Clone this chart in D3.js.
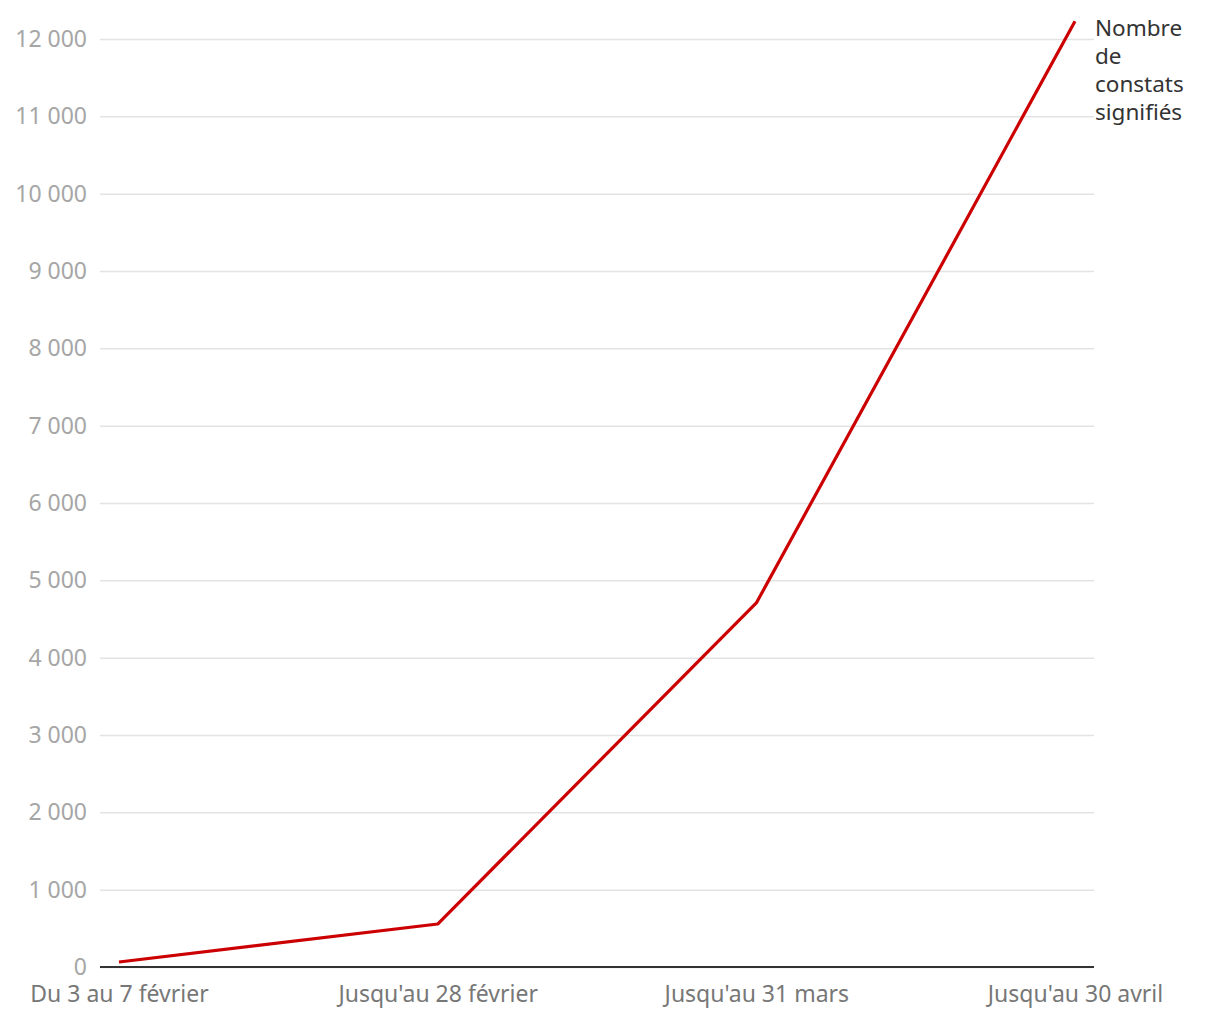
<html>
<head>
<meta charset="utf-8">
<script src="https://d3js.org/d3.v7.min.js"></script>
<style>
body {
	margin: 0;
	background: #fff;
	font-family: "Noto Sans", sans-serif;
}
</style>
</head>
<body>
<svg id="chart" width="1220" height="1020"></svg>
<script>

var categories = ["Du 3 au 7 février", "Jusqu'au 28 février", "Jusqu'au 31 mars", "Jusqu'au 30 avril"]
var values = [65, 556, 4707, 12230]
var yTicks = [0, 1000, 2000, 3000, 4000, 5000, 6000, 7000, 8000, 9000, 10000, 11000, 12000]
var seriesLabel = ["Nombre", "de", "constats", "signifiés"]

var svg = d3.select("#chart"),
	margin = {top: 39, left: 100, bottom: 53, right: 126},
	width = +svg.attr("width"),
	height = +svg.attr("height");

var x = d3.scalePoint()
	.domain(categories)
	.range([119, 1075])

var y = d3.scaleLinear()
	.domain([0, 12000])
	.range([height - margin.bottom, margin.top])

// grid + y labels
var yAxis = svg.append("g")
	.attr("transform", `translate(${margin.left},0)`)
	.call(d3.axisLeft(y).tickValues(yTicks).tickSize(-(width - margin.right - margin.left)).tickPadding(13).tickFormat(d => d3.format(",")(d).replace(/,/g, " ")))

yAxis.select(".domain").remove()
yAxis.selectAll(".tick line")
	.attr("stroke", "#e3e3e3")
	.attr("stroke-width", 1.5)
yAxis.selectAll(".tick text")
	.attr("fill", "#a6a6a6")
	.style("font-size", "23px")
	.style("font-family", "Noto Sans")

// baseline
svg.append("line")
	.attr("x1", margin.left)
	.attr("x2", width - margin.right)
	.attr("y1", y(0))
	.attr("y2", y(0))
	.attr("stroke", "#333")
	.attr("stroke-width", 2)

// x labels
var xAxis = svg.append("g")
	.attr("transform", `translate(0,${y(0)})`)
	.call(d3.axisBottom(x).tickSize(0).tickPadding(19))

xAxis.select(".domain").remove()
xAxis.selectAll(".tick text")
	.attr("fill", "#777")
	.style("font-size", "23px")
	.style("font-family", "Noto Sans")

// line
var line = d3.line()
	.x((d, i) => x(categories[i]))
	.y(d => y(d))

svg.append("path")
	.datum(values)
	.attr("fill", "none")
	.attr("stroke", "#cc0000")
	.attr("stroke-width", 3.2)
	.attr("stroke-linejoin", "round")
	.attr("d", line)

// series label
svg.append("text")
	.attr("x", 1095)
	.attr("y", 36)
	.attr("fill", "#333")
	.style("font-size", "22.5px")
	.selectAll("tspan")
	.data(seriesLabel)
	.enter().append("tspan")
		.attr("x", 1095)
		.attr("dy", (d, i) => i ? 28 : 0)
		.text(d => d)

</script>
</body>
</html>
